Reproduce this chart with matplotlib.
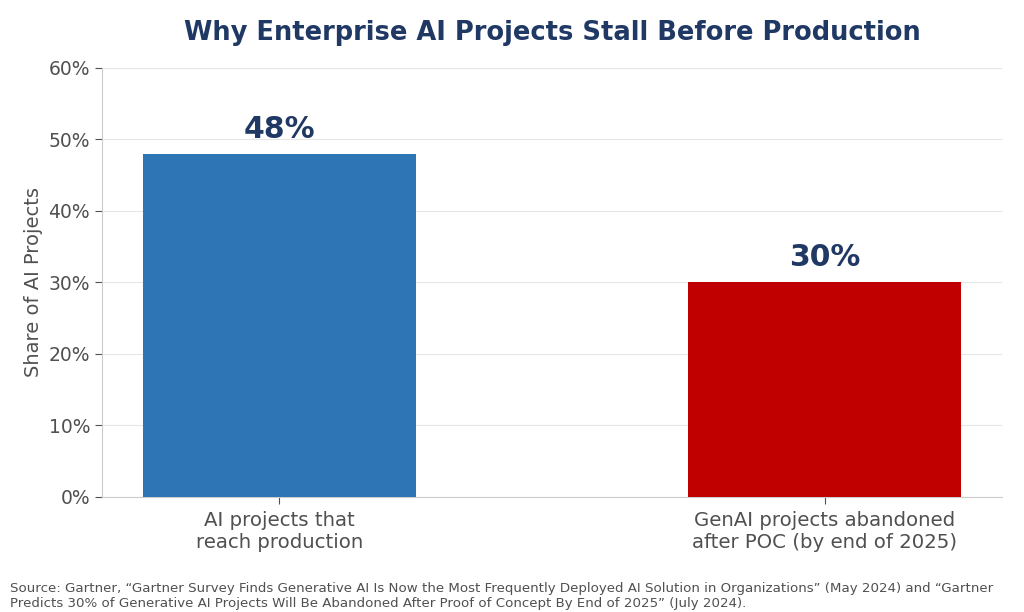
import matplotlib
matplotlib.use("Agg")
import matplotlib.pyplot as plt
from matplotlib.ticker import PercentFormatter

categories = ["AI projects that\nreach production", "GenAI projects abandoned\nafter POC (by end of 2025)"]
values = [48, 30]
bar_colors = ["#2E75B6", "#C00000"]
yticks = [0, 10, 20, 30, 40, 50, 60]

title = "Why Enterprise AI Projects Stall Before Production"
ylabel = "Share of AI Projects"
source = ("Source: Gartner, \u201cGartner Survey Finds Generative AI Is Now the Most Frequently Deployed AI Solution in Organizations\u201d (May 2024) and \u201cGartner\n"
          "Predicts 30% of Generative AI Projects Will Be Abandoned After Proof of Concept By End of 2025\u201d (July 2024).")

navy = "#1F3864"
gray = "#505050"

fig = plt.figure(figsize=(10.24, 6.12), dpi=100)
ax = fig.add_axes([0.0996, 0.188, 0.879, 0.701])

x = list(range(len(categories)))
bars = ax.bar(x, values, width=0.5, color=bar_colors, zorder=3)

for b, v in zip(bars, values):
    ax.text(b.get_x() + b.get_width() / 2, v + 1.4, f"{v}%", ha="center", va="bottom",
            fontsize=21.5, fontweight="bold", color=navy)

ax.set_xlim(-0.325, 1.325)
ax.set_ylim(0, 60)
ax.set_yticks(yticks)
ax.yaxis.set_major_formatter(PercentFormatter(decimals=0))
ax.set_xticks(x)
ax.set_xticklabels(categories)
ax.tick_params(axis="both", labelsize=13.5, colors=gray, length=5)
ax.tick_params(axis="x", labelsize=14.2, pad=5)
ax.grid(axis="y", color="#E6E6E6", linewidth=0.8, zorder=0)
ax.set_axisbelow(True)

for side in ["top", "right"]:
    ax.spines[side].set_visible(False)
for side in ["left", "bottom"]:
    ax.spines[side].set_color("#CCCCCC")

ax.set_ylabel(ylabel, fontsize=14, color=gray, labelpad=4)
ax.set_title(title, fontsize=18.5, fontweight="bold", color=navy, pad=20)

fig.text(0.01, 0.003, source, fontsize=9.6, color=gray, ha="left", va="bottom")

fig.savefig("out.png", dpi=100)
